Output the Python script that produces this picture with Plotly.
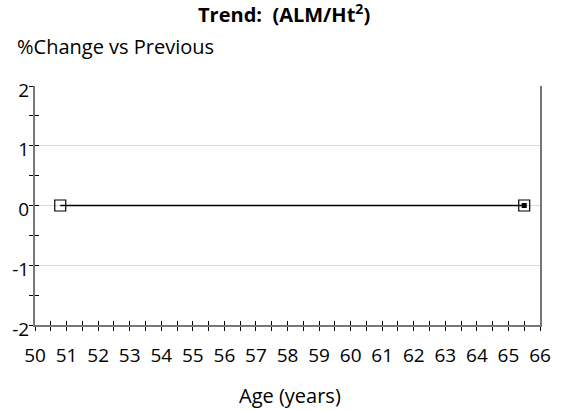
import plotly.graph_objects as go

ages = [50.8, 65.5]
pct_change = [0, 0]
x_ticks = [50 + 0.5 * i for i in range(33)]
x_labels = [str(int(v)) if v == int(v) else "" for v in x_ticks]
y_major = [-2, -1, 0, 1, 2]
y_labels = [str(v) for v in y_major]
y_minor = [-1.5, -0.5, 0.5, 1.5]
y_all = sorted(y_major + y_minor)

FONT = "Open Sans"
TICKFONT = dict(size=19, family=FONT, color="black")
fig = go.Figure()
fig.add_trace(go.Scatter(x=ages, y=pct_change, mode="lines+markers",
                         line=dict(color="black", width=1.5),
                         marker=dict(symbol="square-open", size=11, color="black", line=dict(width=1.2)),
                         showlegend=False, hoverinfo="skip"))
fig.add_trace(go.Scatter(x=ages[-1:], y=pct_change[-1:], mode="markers",
                         marker=dict(symbol="square", size=5, color="black"),
                         showlegend=False, hoverinfo="skip"))
fig.add_trace(go.Scatter(x=ages, y=pct_change, xaxis="x2", yaxis="y2", mode="none",
                         showlegend=False, hoverinfo="skip"))

fig.update_layout(
    width=569, height=410,
    margin=dict(l=35, r=29, t=86, b=85),
    plot_bgcolor="white", paper_bgcolor="white",
    font=dict(family=FONT, size=16, color="black"),
    xaxis=dict(range=[50, 66], tickvals=x_ticks, ticktext=x_labels,
               ticks="outside", ticklen=4, tickcolor="black", tickwidth=1,
               showline=True, linecolor="#777777", linewidth=2,
               showgrid=False, zeroline=False, ticklabelstandoff=8,
               automargin=False, tickfont=TICKFONT),
    yaxis=dict(range=[-2, 2], tickvals=y_major, ticktext=y_labels,
               ticks="outside", ticklen=4, tickcolor="black", tickwidth=1,
               minor=dict(tickmode="array", tickvals=y_minor, ticks="outside", ticklen=4,
                          tickcolor="black", tickwidth=1, showgrid=False),
               showline=True, linecolor="#777777", linewidth=2, mirror=True,
               showgrid=True, gridcolor="#d9d9d9", gridwidth=1, zeroline=False,
               ticklabelstandoff=-4, ticklabelshift=4,
               automargin=False, tickfont=TICKFONT),
    xaxis2=dict(range=[50, 66], overlaying="x", anchor="y2", side="bottom",
                tickvals=x_ticks, showticklabels=False, ticks="inside", ticklen=4,
                tickcolor="black", showgrid=False, zeroline=False, showline=False),
    yaxis2=dict(range=[-2, 2], overlaying="y", anchor="x2", side="left",
                tickvals=y_all, showticklabels=False, ticks="inside", ticklen=4,
                tickcolor="black", showgrid=False, zeroline=False, showline=False),
    annotations=[
        dict(text="<b>Trend:  (ALM/Ht<sup>2</sup>)</b>", x=0.493, y=1.3013, xref="paper", yref="paper",
             xanchor="center", yanchor="middle", showarrow=False, font=dict(size=20, family=FONT)),
        dict(text="%Change vs Previous", x=-0.0396, y=1.1632, xref="paper", yref="paper",
             xanchor="left", yanchor="middle", showarrow=False, font=dict(size=20, family=FONT)),
        dict(text="Age (years)", x=0.504, y=-0.297, xref="paper", yref="paper",
             xanchor="center", yanchor="middle", showarrow=False, font=dict(size=20, family=FONT)),
    ],
)
fig.write_html("out.html", config={"displayModeBar": False},
               post_script="document.body.style.margin='0';")
